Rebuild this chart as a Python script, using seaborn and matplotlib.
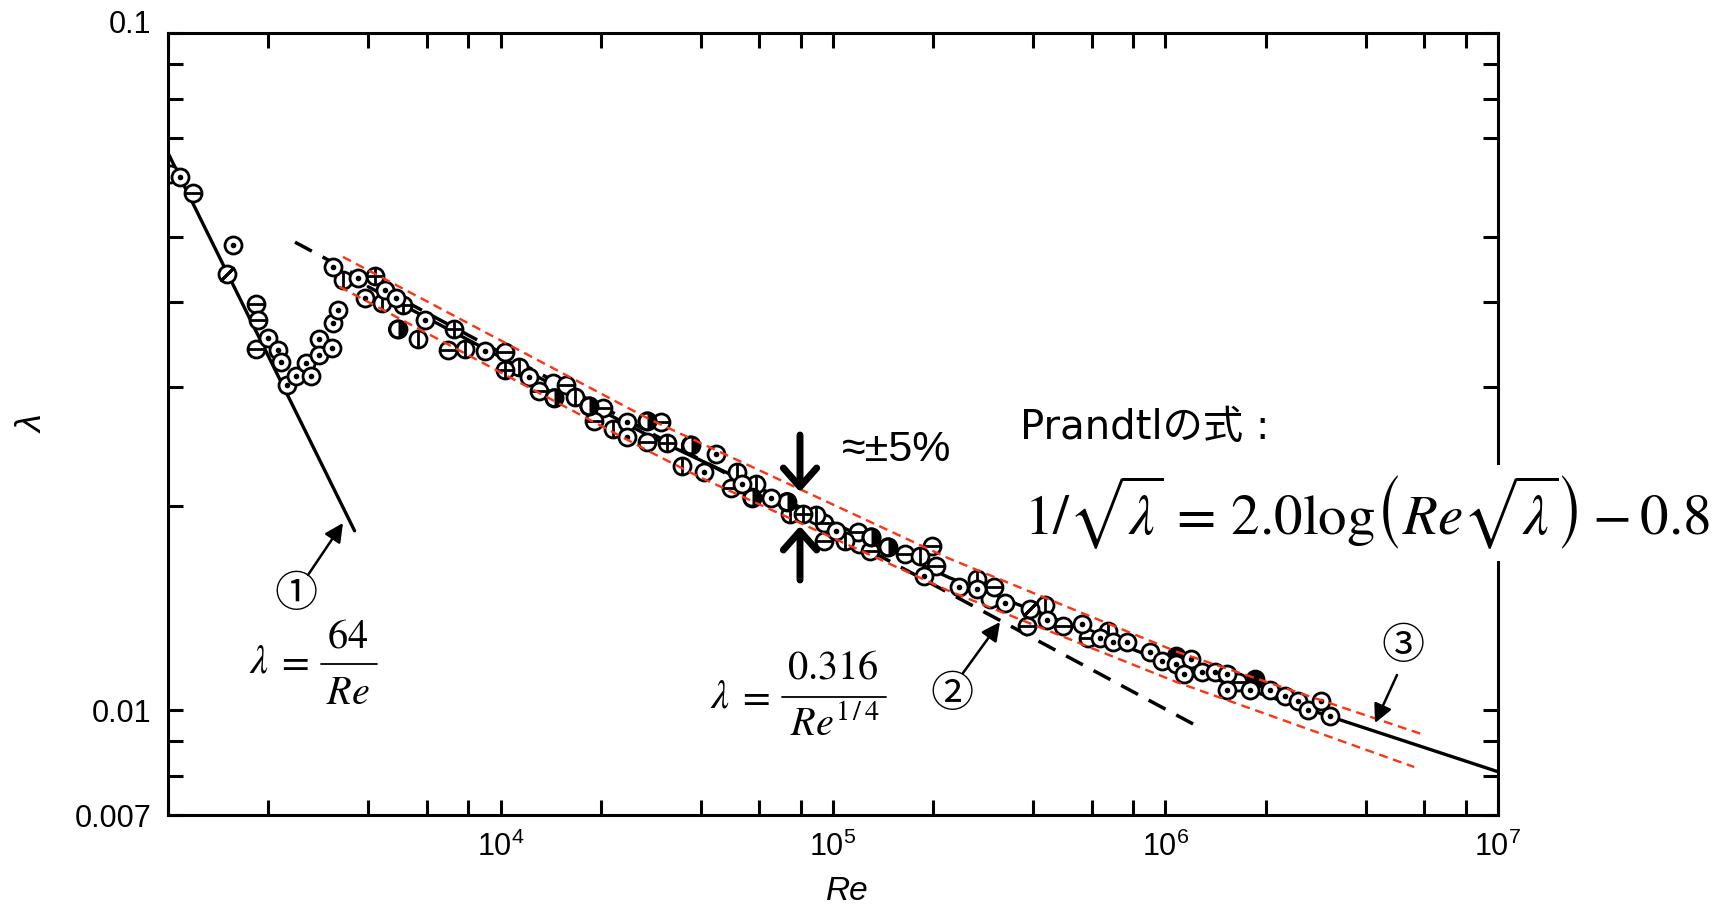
import matplotlib
matplotlib.use("Agg")
import matplotlib.pyplot as plt
from matplotlib.lines import Line2D
from matplotlib.ticker import FixedLocator, FixedFormatter, NullFormatter
from matplotlib.transforms import ScaledTranslation
from matplotlib.path import Path
import seaborn as sns

# ---- lines ----
lam_re = [1000, 3640]                     # (1) laminar
lam_f = [0.0665, 0.0184]
blasius_re = [2410, 1.28e6]               # (2) Blasius, dashed
blasius_f = [0.0491, 0.0094]
prandtl_re = [4000, 2.8e4, 2.23e5, 1.08e6, 3.15e6, 1e7]   # (3) Prandtl
prandtl_f = [0.0422, 0.0254, 0.0157, 0.0116, 0.00977, 0.00811]
band_up_re = [3360, 2.8e4, 5.46e4, 2.23e5, 1.08e6, 6.0e6]  # +5% band
band_up_f = [0.0467, 0.0269, 0.0231, 0.01675, 0.0122, 0.00919]
band_lo_re = [3280, 2.8e4, 3.96e4, 2.23e5, 1.08e6, 5.6e6]  # -5% band
band_lo_f = [0.0422, 0.0241, 0.0221, 0.0150, 0.0110, 0.00824]

# ---- measured points, grouped by symbol ----
dot_re = [1086, 1564, 2001, 2135, 2194, 2272, 2434, 2596, 2700, 2846, 2846, 3121, 3134, 3253,
          3134, 3727, 3903, 4482, 4860, 5908, 9010, 12150, 24090, 24090, 44390, 40930, 53350,
          64900, 102200, 187400, 238700, 270800, 328000, 441600, 562000, 635000, 697000, 764000,
          898000, 973000, 1072000, 1192000, 1138000, 1289000, 1407000, 1535000, 1535000, 1792000,
          2058000, 2293000, 2503000, 2682000, 2940000, 3116000]
dot_f = [0.0613, 0.0486, 0.0355, 0.0340, 0.0327, 0.0302, 0.0311, 0.0326, 0.0311, 0.0353, 0.0334,
         0.0343, 0.0373, 0.0390, 0.0451, 0.0434, 0.0406, 0.0417, 0.0406, 0.0377, 0.0339, 0.0310,
         0.0266, 0.0253, 0.0239, 0.0225, 0.0216, 0.0206, 0.0184, 0.0158, 0.0152, 0.0151, 0.0144,
         0.0136, 0.0134, 0.0128, 0.0126, 0.0126, 0.0122, 0.0118, 0.0117, 0.0119, 0.0113, 0.0114,
         0.0114, 0.0113, 0.0107, 0.0107, 0.0107, 0.0105, 0.0103, 0.0100, 0.0103, 0.0098]
hbar_re = [1186, 1837, 1867, 1837, 6943, 10340, 13090, 15740, 20270, 19140, 30350, 27670, 49230,
           93800, 93800, 119000, 129600, 164300, 198400, 204000, 303900, 384500, 491300, 586000,
           1653000]
hbar_f = [0.0580, 0.0398, 0.0377, 0.0342, 0.0340, 0.0338, 0.0296, 0.0302, 0.0279, 0.0267, 0.0266,
          0.0249, 0.0213, 0.0189, 0.0178, 0.0183, 0.0172, 0.0170, 0.0175, 0.0163, 0.0152, 0.0133,
          0.0133, 0.0128, 0.0110]
vbar_re = [3360, 4411, 5642, 7845, 11390, 16790, 21720, 35240, 51530, 58500, 74500, 88600, 108500,
           183100, 270800, 434500, 673000]
vbar_f = [0.0432, 0.0399, 0.0353, 0.0342, 0.0321, 0.0290, 0.0260, 0.0229, 0.0225, 0.0216, 0.0195,
          0.0194, 0.0178, 0.0169, 0.0156, 0.0143, 0.0131]
plus_re = [4182, 5087, 7271, 10340, 31770, 81200]
plus_f = [0.0437, 0.0397, 0.0366, 0.0318, 0.0248, 0.0195]
half_re = [4914, 14520, 18490, 27670, 37350, 57160, 72800, 130500, 146400]
half_f = [0.0365, 0.0289, 0.0281, 0.0267, 0.0246, 0.0206, 0.0203, 0.0180, 0.0174]
slash_re = [1501, 392500]
slash_f = [0.0441, 0.0141]
empty_re = [1014, 14350, 120100, 297100]
empty_f = [0.0619, 0.0304, 0.0176, 0.0146]
full_re = [1079000, 1863000]
full_f = [0.0120, 0.0111]

x_major = [1e3, 1e4, 1e5, 1e6, 1e7]
x_major_labels = ["", r"$\mathdefault{10^{4}}$", r"$\mathdefault{10^{5}}$",
                  r"$\mathdefault{10^{6}}$", r"$\mathdefault{10^{7}}$"]
x_minor = [m * 10 ** k for k in range(3, 7) for m in (2, 4, 6, 8)]
y_major = [0.007, 0.01, 0.1]
y_major_labels = ["0.007", "0.01", "0.1"]
y_minor = [0.008, 0.009, 0.02, 0.03, 0.04, 0.05, 0.07, 0.08, 0.09]

sns.set_style("ticks", {"axes.edgecolor": "black", "xtick.color": "black", "ytick.color": "black",
                        "text.color": "black", "axes.labelcolor": "black"})
plt.rcParams["font.family"] = ["Liberation Sans", "Noto Sans CJK JP", "DejaVu Sans"]
plt.rcParams["mathtext.fontset"] = "stix"

W, H = 1731, 905
fig = plt.figure(figsize=(W / 100, H / 100), dpi=100)
ax = fig.add_axes([168 / W, 1 - 815 / H, 1330 / W, 782 / H])
ax.set_xscale("log")
ax.set_yscale("log")

red = "#ff3310"
sns.lineplot(x=lam_re, y=lam_f, ax=ax, color="black", lw=2.4, sort=False, estimator=None, zorder=2)
sns.lineplot(x=blasius_re, y=blasius_f, ax=ax, color="black", lw=2.5, sort=False, estimator=None,
             linestyle=(0, (5.5, 3.5)), zorder=2)
sns.lineplot(x=prandtl_re, y=prandtl_f, ax=ax, color="black", lw=2.4, sort=False, estimator=None, zorder=2)

S = 150
EW = 2.0


def ring(re, f, z, face="white"):
    sns.scatterplot(x=re, y=f, ax=ax, marker="o", s=S, color=face, edgecolor="black",
                    linewidth=EW, zorder=z)


def inner(re, f, z, marker, size, lw=EW):
    sns.scatterplot(x=re, y=f, ax=ax, marker=marker, s=size, color="black", edgecolor="black",
                    linewidth=lw, zorder=z)


ring(empty_re, empty_f, 3)
ring(hbar_re, hbar_f, 3)
inner(hbar_re, hbar_f, 3.1, "_", S)
ring(vbar_re, vbar_f, 3.2)
inner(vbar_re, vbar_f, 3.3, "|", S)
ring(slash_re, slash_f, 3.2)
inner(slash_re, slash_f, 3.3, (2, 2, -45), S)
ring(plus_re, plus_f, 3.4)
inner(plus_re, plus_f, 3.5, "+", S)
ring(half_re, half_f, 3.6)
inner(half_re, half_f, 3.7, Path.wedge(-90, 90), S * 0.85, lw=0)
ring(half_re, half_f, 3.8, face="none")
ring(full_re, full_f, 3.6, face="black")
ring(dot_re, dot_f, 3.9)
inner(dot_re, dot_f, 4.0, "o", 16, lw=0)

sns.lineplot(x=band_up_re, y=band_up_f, ax=ax, color=red, lw=1.7, sort=False, estimator=None,
             linestyle=(0, (3.8, 2.4)), zorder=10)
sns.lineplot(x=band_lo_re, y=band_lo_f, ax=ax, color=red, lw=1.7, sort=False, estimator=None,
             linestyle=(0, (3.8, 2.4)), zorder=10)

ax.set_xlim(1e3, 1e7)
ax.set_ylim(0.007, 0.1)
ax.xaxis.set_major_locator(FixedLocator(x_major))
ax.xaxis.set_major_formatter(FixedFormatter(x_major_labels))
ax.xaxis.set_minor_locator(FixedLocator(x_minor))
ax.xaxis.set_minor_formatter(NullFormatter())
ax.yaxis.set_major_locator(FixedLocator(y_major))
ax.yaxis.set_major_formatter(FixedFormatter(y_major_labels))
ax.yaxis.set_minor_locator(FixedLocator(y_minor))
ax.yaxis.set_minor_formatter(NullFormatter())
ax.tick_params(which="both", direction="in", top=True, right=True, length=11, width=2.2,
               labelsize=22, pad=12)
for sp in ax.spines.values():
    sp.set_linewidth(2.2)
    sp.set_zorder(12)

ax.set_xlabel("Re", fontsize=24, fontstyle="italic")
ax.set_ylabel("λ", fontsize=26, fontstyle="italic")
ax.xaxis.set_label_coords(0.511, -0.078)
ax.yaxis.set_label_coords(-0.088, 0.5)


def fx(x):
    return x / W


def fy(y):
    return 1 - y / H


def arrow(tail, head, lw=1.8, style="-|>", scale=28):
    ax.annotate("", xy=(fx(head[0]), fy(head[1])), xytext=(fx(tail[0]), fy(tail[1])),
                xycoords="figure fraction", textcoords="figure fraction", annotation_clip=False,
                arrowprops=dict(arrowstyle=style, color="black", lw=lw, mutation_scale=scale,
                                shrinkA=0, shrinkB=0), zorder=11)


def label(x, y, s, size=29, **kw):
    fig.text(fx(x), fy(y), s, fontsize=size, ha=kw.pop("ha", "center"), va=kw.pop("va", "center"), **kw)


def bar(x0, x1, y):
    fig.add_artist(Line2D([fx(x0), fx(x1)], [fy(y), fy(y)], transform=fig.transFigure,
                          color="black", lw=1.3))


cjk = ["Noto Sans CJK JP", "DejaVu Sans"]

# (1) laminar: lambda = 64 / Re
label(296, 595, "①", size=31, family=cjk)
arrow((308, 575), (343, 523))
label(259, 661, r"$\lambda$")
label(293, 662, r"$=$")
label(348, 636, r"$64$")
bar(321, 377, 664)
label(348, 693, r"$Re$")

# (2) Blasius: lambda = 0.316 / Re^(1/4)
label(720, 696, r"$\lambda$")
label(754, 697, r"$=$")
label(833, 667, r"$0.316$")
bar(782, 886, 697)
label(835, 724, r"$Re^{1\,/\,4}$")
label(952, 695, "②", size=31, family=cjk)
arrow((963, 673), (1000, 622))

# (3) Prandtl
label(1403, 647, "③", size=31, family=cjk)
arrow((1397, 675), (1375, 723))

label(897, 450, "≈±5%", size=31)
thick = "->, head_length=0.45, head_width=0.4"
arrow((800, 435), (800, 492), lw=5, style=thick, scale=30)
arrow((800, 580), (800, 526), lw=5, style=thick, scale=30)

label(1020, 428, "Prandtlの式 :", size=29, family=["DejaVu Sans", "Noto Sans CJK JP"], ha="left")
fig.text(fx(1024), fy(513),
         r"$1/\sqrt{\lambda}\, =\, 2.0\mathrm{log}\left(Re\sqrt{\lambda}\right) - 0.8$",
         fontsize=41, ha="left", va="center",
         bbox=dict(facecolor="white", edgecolor="none", pad=6), zorder=20)

# the top "0.1" label sits a little above its tick in the original
fig.canvas.draw()
for tick in ax.yaxis.get_major_ticks():
    if tick.label1.get_text() == "0.1":
        tick.label1.set_transform(tick.label1.get_transform()
                                  + ScaledTranslation(0, 8 / 72, fig.dpi_scale_trans))

fig.savefig("out.png", dpi=100)
